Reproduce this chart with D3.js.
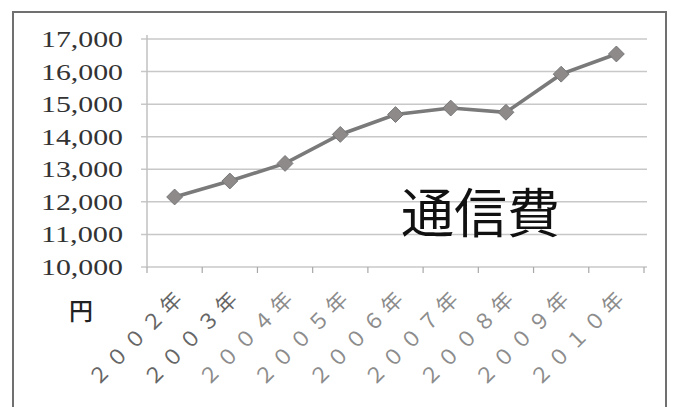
<!DOCTYPE html>
<html>
<head>
<meta charset="utf-8">
<script src="https://cdn.jsdelivr.net/npm/d3@7"></script>
<style>
html,body{margin:0;padding:0;background:#fff;}
svg{display:block;}
</style>
</head>
<body>
<svg id="chart" width="673" height="407"></svg>
<script>
const categories = ["２００２年","２００３年","２００４年","２００５年","２００６年","２００７年","２００８年","２００９年","２０１０年"];
const values = [12150, 12640, 13180, 14070, 14680, 14880, 14750, 15920, 16540];
const yTicks = [10000, 11000, 12000, 13000, 14000, 15000, 16000, 17000];
const title = "通信費";
const unitLabel = "円";

const svg = d3.select("#chart");
const pLeft = 147, pRight = 644, pTop = 39, pBottom = 267;

// frame
svg.append("rect").attr("x", 13).attr("y", 12).attr("width", 653).attr("height", 410)
  .attr("fill", "none").attr("stroke", "#707070").attr("stroke-width", 2);

const x = d3.scaleBand().domain(categories).range([pLeft, pRight]);
const y = d3.scaleLinear().domain([10000, 17000]).range([pBottom, pTop]);

// gridlines
svg.append("g").selectAll("line").data(yTicks).join("line")
  .attr("x1", pLeft - 6).attr("x2", pRight + 3)
  .attr("y1", d => y(d)).attr("y2", d => y(d))
  .attr("stroke", "#c8c8c8").attr("stroke-width", 1.5);

// y axis line
svg.append("line").attr("x1", pLeft).attr("x2", pLeft).attr("y1", pTop - 4).attr("y2", pBottom)
  .attr("stroke", "#c0c0c0").attr("stroke-width", 1.5);

// x axis ticks
const bounds = categories.map(c => x(c)).concat([pRight]);
svg.append("g").selectAll("line").data(bounds).join("line")
  .attr("x1", d => d).attr("x2", d => d).attr("y1", pBottom).attr("y2", pBottom + 6)
  .attr("stroke", "#a8a8a8").attr("stroke-width", 1.2);

// y labels
const fmt = d3.format(",");
svg.append("g").selectAll("text").data(yTicks).join("text")
  .attr("x", 123).attr("y", d => y(d) + 8)
  .attr("text-anchor", "end")
  .attr("font-family", "Liberation Serif, DejaVu Serif, serif")
  .attr("font-size", 23)
  .attr("fill", "#333")
  .attr("textLength", 82).attr("lengthAdjust", "spacingAndGlyphs")
  .text(d => fmt(d));

// x labels
svg.append("g").selectAll("text").data(categories).join("text")
  .attr("transform", d => `translate(${x(d) + x.bandwidth() / 2 + 9},${301}) rotate(-45)`)
  .attr("text-anchor", "end")
  .attr("font-family", "Noto Sans CJK JP, sans-serif")
  .attr("font-size", 21)
  .attr("textLength", 122).attr("lengthAdjust", "spacing")
  .attr("fill", (d, i) => i < 2 ? "#666" : "#8c8c8c")
  .text(d => d);

// line
const line = d3.line().x((d, i) => x(categories[i]) + x.bandwidth() / 2).y(d => y(d));
svg.append("path").datum(values).attr("d", line)
  .attr("fill", "none").attr("stroke", "#7a7a7a").attr("stroke-width", 3.6);

// markers
svg.append("g").selectAll("path").data(values).join("path")
  .attr("transform", (d, i) => `translate(${x(categories[i]) + x.bandwidth() / 2},${y(d)})`)
  .attr("d", d3.symbol().type(d3.symbolDiamond2).size(160))
  .attr("fill", "#8e8a8a").attr("stroke", "#777").attr("stroke-width", 1);

// title
svg.append("text").attr("x", 401).attr("y", 233)
  .attr("font-family", "Noto Sans CJK JP, sans-serif")
  .attr("font-size", 53).attr("fill", "#111")
  .text(title);

// unit
svg.append("text").attr("x", 69).attr("y", 320)
  .attr("font-family", "Noto Sans CJK JP, sans-serif")
  .attr("font-size", 24).attr("font-weight", 500).attr("fill", "#222")
  .text(unitLabel);
</script>
</body>
</html>
